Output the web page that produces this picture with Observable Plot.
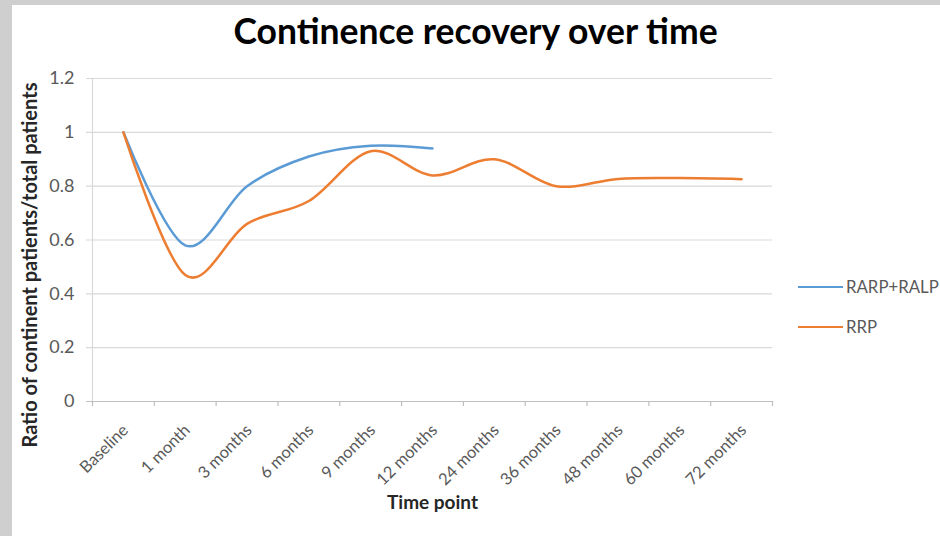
<!DOCTYPE html>
<html>
<head>
<meta charset="utf-8">
<script src="https://cdn.jsdelivr.net/npm/d3@7"></script>
<script src="https://cdn.jsdelivr.net/npm/@observablehq/plot@0.6"></script>
<style>
  html, body { margin: 0; padding: 0; background: #cfcfcf; }
  #wrap { position: relative; width: 940px; height: 536px; overflow: hidden; }
  #card { position: absolute; left: 12px; top: 5px; width: 928px; height: 531px; background: #fff; }
  #chart { position: absolute; left: 0; top: 0; }
  .legend { position: absolute; left: 798px; font-family: Lato, "Open Sans", sans-serif; font-size: 16.8px; line-height: 22px; color: #595959; white-space: nowrap; display: flex; align-items: center; }
  .legend span.sw { display: inline-block; width: 45px; height: 2.5px; margin-right: 3px; }
</style>
</head>
<body>
<div id="wrap">
  <div id="card"></div>
  <div id="chart"></div>
  <div class="legend" style="top:276px"><span class="sw" style="background:#5B9BD5"></span>RARP+RALP</div>
  <div class="legend" style="top:316px"><span class="sw" style="background:#ED7D31"></span>RRP</div>
</div>
<script>
const categories = ["Baseline","1 month","3 months","6 months","9 months","12 months","24 months","36 months","48 months","60 months","72 months"];
const rarpRalp = [1.00, 0.58, 0.80, 0.91, 0.95, 0.94];
const rrp = [1.00, 0.47, 0.66, 0.745, 0.93, 0.84, 0.90, 0.80, 0.827, 0.83, 0.826];
const yTicks = [0, 0.2, 0.4, 0.6, 0.8, 1.0, 1.2];
const seriesNames = ["RARP+RALP", "RRP"];
const seriesColors = ["#5B9BD5", "#ED7D31"];

const rows = [];
rarpRalp.forEach((v, i) => rows.push({i, value: v, series: seriesNames[0]}));
rrp.forEach((v, i) => rows.push({i, value: v, series: seriesNames[1]}));
const catRows = categories.map((c, i) => ({i, label: c}));
const boundaries = d3.range(-0.5, categories.length, 1);

const font = "Lato, 'Open Sans', sans-serif";

const chart = Plot.plot({
  width: 940,
  height: 536,
  marginLeft: 92,
  marginRight: 168,
  marginTop: 78,
  marginBottom: 135,
  style: {background: "transparent", fontFamily: font},
  x: {type: "linear", domain: [-0.5, categories.length - 0.5], axis: null},
  y: {type: "linear", domain: [0, 1.2], axis: null},
  color: {domain: seriesNames, range: seriesColors},
  marks: [
    // horizontal gridlines (extended left as tick marks)
    Plot.ruleY(yTicks, {stroke: "#d9d9d9", strokeWidth: 1.2, insetLeft: -6}),
    // y-axis tick labels
    Plot.text(yTicks, {x: -0.5, y: d => d, text: d => d3.format("~g")(d), dx: -18, textAnchor: "end", fill: "#595959", fontSize: 18}),
    // y axis line
    Plot.ruleX([-0.5], {stroke: "#d9d9d9", strokeWidth: 1.2}),
    // x axis line
    Plot.ruleY([0], {stroke: "#bfbfbf", strokeWidth: 1.2, insetLeft: -6}),
    // x tick marks between categories
    Plot.ruleX(boundaries, {y1: 0, y2: 0, insetBottom: -5, stroke: "#bfbfbf", strokeWidth: 1.2}),
    // series lines
    Plot.line(rows, {x: "i", y: "value", z: "series", stroke: "series", strokeWidth: 2.5, curve: "cardinal"}),
    // x tick labels
    Plot.text(catRows, {x: "i", y: 0, text: "label", rotate: -45, textAnchor: "end", lineAnchor: "middle", dx: 2, dy: 26, fill: "#595959", fontSize: 16.5}),
    // axis titles
    Plot.text(["Time point"], {frameAnchor: "bottom", lineAnchor: "middle", dy: 101, text: d => d, fontWeight: "bold", fontSize: 19, fill: "#262626"}),
    Plot.text(["Ratio of continent patients/total patients"], {frameAnchor: "left", dx: -62, dy: 25, rotate: -90, textAnchor: "middle", lineAnchor: "middle", text: d => d, fontWeight: "bold", fontSize: 20, fill: "#262626"}),
    // title
    Plot.text(["Continence recovery over time"], {frameAnchor: "top", lineAnchor: "middle", dx: 43, dy: -46, text: d => d, fontWeight: "bold", fontSize: 35.5, fill: "#000"})
  ]
});
document.getElementById("chart").appendChild(chart);
</script>
</body>
</html>
